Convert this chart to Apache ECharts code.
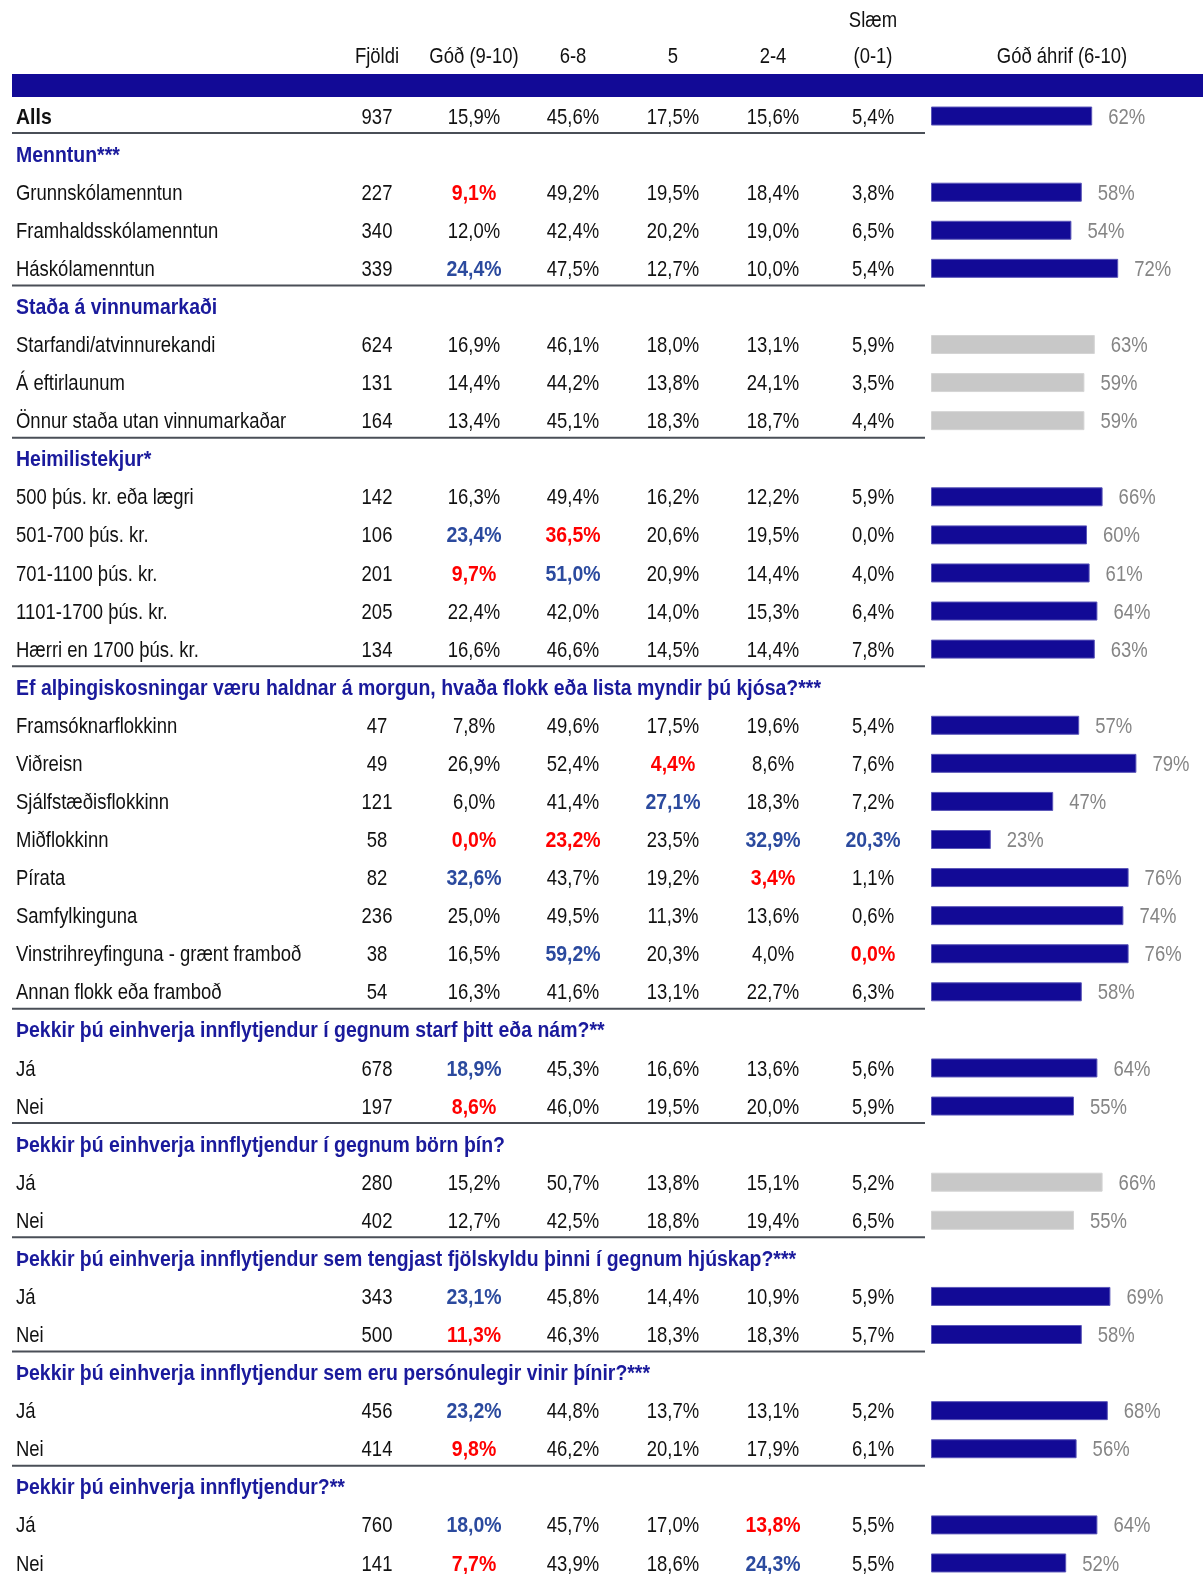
<!DOCTYPE html>
<html>
<head>
<meta charset="utf-8">
<script src="https://cdn.jsdelivr.net/npm/echarts@6/dist/echarts.min.js"></script>
<style>
  html, body { margin: 0; padding: 0; background: #fff; }
  #chart { width: 1203px; height: 1574px; }
</style>
</head>
<body>
<div id="chart"></div>
<script>
var rowLabels = [
    'Alls',
    'Menntun***',
    'Grunnskólamenntun', 'Framhaldsskólamenntun', 'Háskólamenntun',
    'Staða á vinnumarkaði',
    'Starfandi/atvinnurekandi', 'Á eftirlaunum', 'Önnur staða utan vinnumarkaðar',
    'Heimilistekjur*',
    '500 þús. kr. eða lægri', '501-700 þús. kr.', '701-1100 þús. kr.', '1101-1700 þús. kr.', 'Hærri en 1700 þús. kr.',
    'Ef alþingiskosningar væru haldnar á morgun, hvaða flokk eða lista myndir þú kjósa?***',
    'Framsóknarflokkinn', 'Viðreisn', 'Sjálfstæðisflokkinn', 'Miðflokkinn', 'Pírata', 'Samfylkinguna',
    'Vinstrihreyfinguna - grænt framboð', 'Annan flokk eða framboð',
    'Þekkir þú einhverja innflytjendur í gegnum starf þitt eða nám?**',
    'Já', 'Nei',
    'Þekkir þú einhverja innflytjendur í gegnum börn þín?',
    'Já', 'Nei',
    'Þekkir þú einhverja innflytjendur sem tengjast fjölskyldu þinni í gegnum hjúskap?***',
    'Já', 'Nei',
    'Þekkir þú einhverja innflytjendur sem eru persónulegir vinir þínir?***',
    'Já', 'Nei',
    'Þekkir þú einhverja innflytjendur?**',
    'Já', 'Nei'
];
// 't' = total, 'g' = group heading, 'i' = item
var rowKinds = ['t', 'g', 'i', 'i', 'i', 'g', 'i', 'i', 'i', 'g', 'i', 'i', 'i', 'i', 'i',
    'g', 'i', 'i', 'i', 'i', 'i', 'i', 'i', 'i', 'g', 'i', 'i', 'g', 'i', 'i',
    'g', 'i', 'i', 'g', 'i', 'i', 'g', 'i', 'i'];

var columnHeaders = ['Fjöldi', 'Góð (9-10)', '6-8', '5', '2-4', 'Slæm\n(0-1)'];
var barHeader = 'Góð áhrif (6-10)';

var fjoldi = [937, null, 227, 340, 339, null, 624, 131, 164, null, 142, 106, 201, 205, 134,
    null, 47, 49, 121, 58, 82, 236, 38, 54, null, 678, 197, null, 280, 402,
    null, 343, 500, null, 456, 414, null, 760, 141];
var good910 = [15.9, null, 9.1, 12.0, 24.4, null, 16.9, 14.4, 13.4, null, 16.3, 23.4, 9.7, 22.4, 16.6,
    null, 7.8, 26.9, 6.0, 0.0, 32.6, 25.0, 16.5, 16.3, null, 18.9, 8.6, null, 15.2, 12.7,
    null, 23.1, 11.3, null, 23.2, 9.8, null, 18.0, 7.7];
var score68 = [45.6, null, 49.2, 42.4, 47.5, null, 46.1, 44.2, 45.1, null, 49.4, 36.5, 51.0, 42.0, 46.6,
    null, 49.6, 52.4, 41.4, 23.2, 43.7, 49.5, 59.2, 41.6, null, 45.3, 46.0, null, 50.7, 42.5,
    null, 45.8, 46.3, null, 44.8, 46.2, null, 45.7, 43.9];
var score5 = [17.5, null, 19.5, 20.2, 12.7, null, 18.0, 13.8, 18.3, null, 16.2, 20.6, 20.9, 14.0, 14.5,
    null, 17.5, 4.4, 27.1, 23.5, 19.2, 11.3, 20.3, 13.1, null, 16.6, 19.5, null, 13.8, 18.8,
    null, 14.4, 18.3, null, 13.7, 20.1, null, 17.0, 18.6];
var score24 = [15.6, null, 18.4, 19.0, 10.0, null, 13.1, 24.1, 18.7, null, 12.2, 19.5, 14.4, 15.3, 14.4,
    null, 19.6, 8.6, 18.3, 32.9, 3.4, 13.6, 4.0, 22.7, null, 13.6, 20.0, null, 15.1, 19.4,
    null, 10.9, 18.3, null, 13.1, 17.9, null, 13.8, 24.3];
var bad01 = [5.4, null, 3.8, 6.5, 5.4, null, 5.9, 3.5, 4.4, null, 5.9, 0.0, 4.0, 6.4, 7.8,
    null, 5.4, 7.6, 7.2, 20.3, 1.1, 0.6, 0.0, 6.3, null, 5.6, 5.9, null, 5.2, 6.5,
    null, 5.9, 5.7, null, 5.2, 6.1, null, 5.5, 5.5];
var goodImpact = [62, null, 58, 54, 72, null, 63, 59, 59, null, 66, 60, 61, 64, 63,
    null, 57, 79, 47, 23, 76, 74, 76, 58, null, 64, 55, null, 66, 55,
    null, 69, 58, null, 68, 56, null, 64, 52];

// significant cells: [row, column (0 = Góð .. 4 = Slæm), 'low' | 'high']
var highlights = [
    [2, 0, 'low'], [4, 0, 'high'],
    [11, 0, 'high'], [11, 1, 'low'], [12, 0, 'low'], [12, 1, 'high'],
    [17, 2, 'low'], [18, 2, 'high'], [19, 0, 'low'], [19, 1, 'low'], [19, 3, 'high'], [19, 4, 'high'],
    [20, 0, 'high'], [20, 3, 'low'], [22, 1, 'high'], [22, 4, 'low'],
    [25, 0, 'high'], [26, 0, 'low'],
    [31, 0, 'high'], [32, 0, 'low'],
    [34, 0, 'high'], [35, 0, 'low'],
    [37, 0, 'high'], [37, 3, 'low'], [38, 0, 'low'], [38, 3, 'high']
];
var greyRows = [6, 7, 8, 28, 29];
var separatorAfter = [0, 4, 8, 14, 23, 26, 29, 32, 35];

// layout
var FONT = "'Liberation Sans', Arial, sans-serif";
var FS = 22;
var NARROW = 0.84;       // emulate Arial Narrow
var NARROW_BOLD = 0.885;
var DY = 1.5;            // baseline nudge
var colX = [377, 474, 573, 673, 773, 873];
var labelX = 16;
var TOP = 97, ROWS_H = 1485;

var valueCols = [good910, score68, score5, score24, bad01];

function pct(v) {
    return v.toFixed(1).replace('.', ',') + '%';
}
function hlKind(r, c) {
    for (var k = 0; k < highlights.length; k++) {
        if (highlights[k][0] === r && highlights[k][1] === c) return highlights[k][2];
    }
    return null;
}

function txt(x, y, s, fill, weight, align) {
    weight = weight || 'normal';
    return {
        type: 'text', x: x, y: y + DY,
        scaleX: weight === 'bold' ? NARROW_BOLD : NARROW,
        style: {
            text: s, fill: fill,
            font: weight + ' ' + FS + 'px ' + FONT,
            align: align || 'center', verticalAlign: 'middle'
        }
    };
}

function renderRow(params, api) {
    var i = params.dataIndex;
    var y = api.coord([0, i])[1];
    var band = api.size([0, 1])[1];
    var cs = params.coordSys;
    var kids = [];
    var kind = rowKinds[i];
    if (kind === 'g') {
        kids.push(txt(labelX, y, rowLabels[i], '#1a1a9c', 'bold', 'left'));
    } else {
        kids.push(txt(labelX, y, rowLabels[i], '#111', kind === 't' ? 'bold' : 'normal', 'left'));
        kids.push(txt(colX[0], y, String(fjoldi[i]), '#111'));
        for (var c = 0; c < valueCols.length; c++) {
            var h = hlKind(i, c);
            var fill = h === 'low' ? '#ff0000' : (h === 'high' ? '#2b4a9e' : '#111');
            kids.push(txt(colX[c + 1], y, pct(valueCols[c][i]), fill, h ? 'bold' : 'normal'));
        }
    }
    if (separatorAfter.indexOf(i) >= 0) {
        var ly = y + band / 2 - 2;
        kids.push({
            type: 'line',
            shape: { x1: cs.x, y1: ly, x2: cs.x + cs.width, y2: ly },
            style: { stroke: '#4a4f57', lineWidth: 2 }
        });
    }
    return { type: 'group', children: kids };
}

// value labels to the right of each bar
function renderBarLabel(params, api) {
    var v = api.value(0);
    if (v == null || isNaN(v)) return null;
    var p = api.coord([v, api.value(1)]);
    return txt(p[0] + 16, p[1], v + '%', '#858585', 'normal', 'left');
}

var chart = echarts.init(document.getElementById('chart'));

var headerGraphics = [
    { type: 'rect', shape: { x: 12, y: 74, width: 1191, height: 23 }, style: { fill: '#120a96' } }
];
function headText(x, y, s) {
    return {
        type: 'text', x: x, y: y + DY, scaleX: NARROW,
        style: { text: s, fill: '#111', font: FS + 'px ' + FONT, align: 'center', verticalAlign: 'middle' }
    };
}
columnHeaders.forEach(function (h, k) {
    var lines = h.split('\n');
    lines.forEach(function (ln, j) {
        headerGraphics.push(headText(colX[k], 55 - (lines.length - 1 - j) * 36, ln));
    });
});
headerGraphics.push(headText(1062, 55, barHeader));

var rowIdx = rowLabels.map(function (_, i) { return [0, i]; });

var option = {
    animation: false,
    backgroundColor: '#fff',
    graphic: headerGraphics,
    grid: [
        { left: 12, top: TOP, width: 913, height: ROWS_H, outerBoundsMode: 'none' },
        { left: 931, top: TOP, width: 260, height: ROWS_H, outerBoundsMode: 'none' }
    ],
    xAxis: [
        { gridIndex: 0, type: 'value', min: 0, max: 1, show: false },
        { gridIndex: 1, type: 'value', min: 0, max: 100, show: false }
    ],
    yAxis: [
        { gridIndex: 0, type: 'category', inverse: true, data: rowLabels, show: false },
        { gridIndex: 1, type: 'category', inverse: true, data: rowLabels, show: false }
    ],
    series: [
        {
            type: 'custom',
            xAxisIndex: 0, yAxisIndex: 0,
            silent: true,
            clip: false,
            renderItem: renderRow,
            data: rowIdx
        },
        {
            type: 'bar',
            xAxisIndex: 1, yAxisIndex: 1,
            silent: true,
            barWidth: 19,
            data: goodImpact.map(function (v, i) {
                var grey = greyRows.indexOf(i) >= 0;
                return {
                    value: v,
                    itemStyle: {
                        color: grey ? '#c8c8c8' : '#120a96',
                        borderColor: grey ? '#d4d4d4' : '#5a56b8',
                        borderWidth: 1
                    }
                };
            })
        },
        {
            type: 'custom',
            xAxisIndex: 1, yAxisIndex: 1,
            silent: true,
            clip: false,
            renderItem: renderBarLabel,
            data: goodImpact.map(function (v, i) { return [v, i]; })
        }
    ]
};

chart.setOption(option);
</script>
</body>
</html>
